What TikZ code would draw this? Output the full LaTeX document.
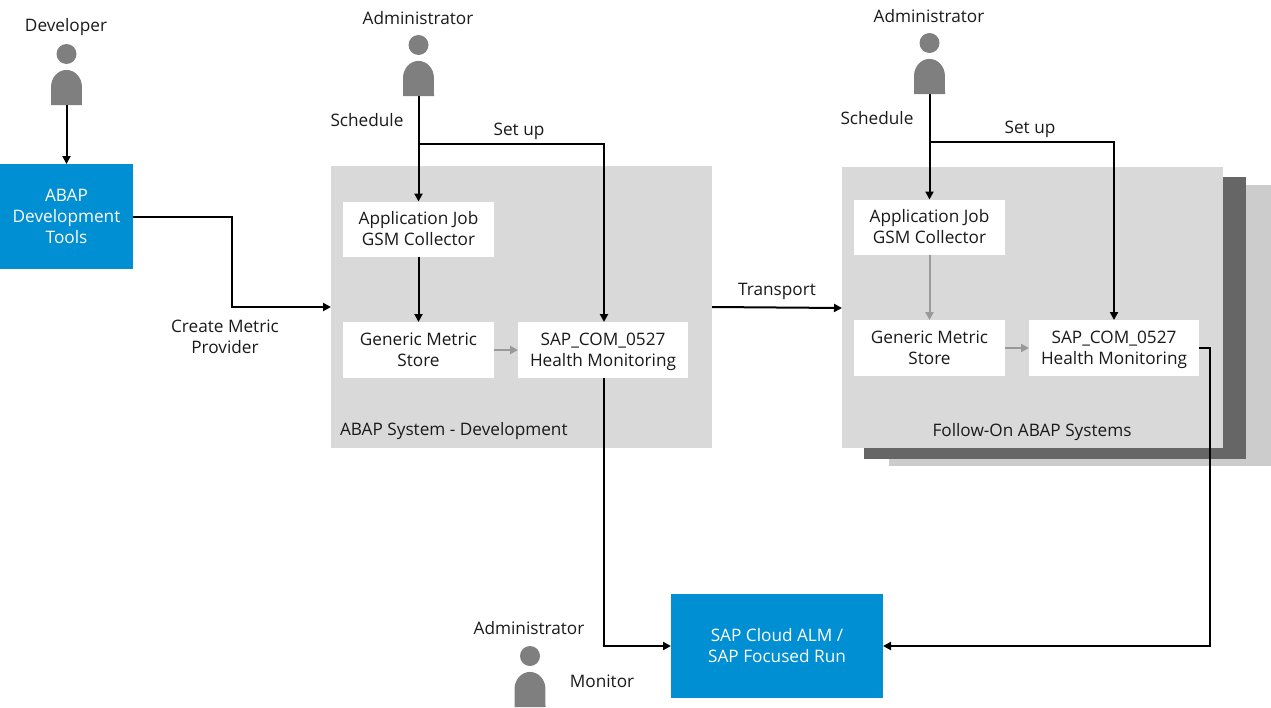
\documentclass[tikz,border=0pt]{standalone}
\usepackage{fontspec}
\setmainfont{Open Sans}
\usetikzlibrary{arrows.meta}
\definecolor{sapblue}{HTML}{008FD3}
\definecolor{pane}{HTML}{D9D9D9}
\definecolor{backlight}{HTML}{CCCCCC}
\definecolor{backdark}{HTML}{666666}
\definecolor{persongrey}{HTML}{7F7F7F}
\definecolor{softarrow}{HTML}{999999}
\definecolor{ink}{HTML}{1A1A1A}
\newcommand{\st}{\rule[-3pt]{0pt}{15pt}}
\tikzset{
  x=0.75pt,y=-0.75pt,
  every node/.style={font=\fontsize{12.9pt}{15.75pt}\selectfont,text=ink,inner sep=0pt,outer sep=0pt},
  panebox/.style={anchor=north west,rectangle,fill=#1},
  whitebox/.style={rectangle,fill=white,align=center,minimum height=42pt,text=ink},
  bluebox/.style={rectangle,fill=sapblue,align=center,text=white},
  lbl/.style={align=center},
  conn/.style={draw=black,line width=1.5pt,-{Triangle[length=6pt,width=6pt]}},
  softconn/.style={draw=softarrow,line width=1.5pt,-{Triangle[length=6pt,width=6pt]}},
}
\newcommand{\personfig}[3]{% x, body top y, name
  \fill[persongrey] (#1,#2-16) circle[radius=7.5pt];
  \fill[persongrey] (#1-15.5,#2+35) -- (#1-15.5,#2+17)
     arc[start angle=180,end angle=0,x radius=11.6pt,y radius=12.8pt]
     -- (#1+15.5,#2+35) -- cycle;
  \coordinate (#3) at (#1,#2+35);
}
\begin{document}
\begin{tikzpicture}
\useasboundingbox (0,0) rectangle (1271,707);
% background panes
\node[panebox=backlight,minimum width=286.5pt,minimum height=210.75pt] (backA) at (889,185) {};
\node[panebox=backdark,minimum width=286.5pt,minimum height=211.5pt] (backB) at (864,177) {};
\node[panebox=pane,minimum width=285.75pt,minimum height=210.75pt] (follow) at (842,167) {};
\node[panebox=pane,minimum width=285.75pt,minimum height=211.5pt] (dev) at (331,166) {};
% people
\personfig{66.5}{70}{pdev}
\personfig{418.5}{61}{padm}
\personfig{929.5}{59}{padr}
\personfig{530}{672}{pmon}
% blue boxes
\node[bluebox,minimum width=99.75pt,minimum height=78.75pt] (adt) at (66.5,216.5) {\st ABAP\\\st Development\\\st Tools};
\node[bluebox,minimum width=159pt,minimum height=78pt] (alm) at (777,646) {\st SAP Cloud ALM /\\\st SAP Focused Run};
% white boxes
\node[whitebox,minimum width=113.25pt,minimum height=41.25pt] (job1) at (418.5,229) {\st Application Job\\\st GSM Collector};
\node[whitebox,minimum width=113.25pt] (gms1) at (418.5,350) {\st Generic Metric\\\st Store};
\node[whitebox,minimum width=127.5pt] (hm1) at (603,350) {\st SAP\_COM\_0527\\\st Health Monitoring};
\node[whitebox,minimum width=113.25pt,minimum height=41.25pt] (job2) at (929.5,227) {\st Application Job\\\st GSM Collector};
\node[whitebox,minimum width=113.25pt] (gms2) at (929.5,348) {\st Generic Metric\\\st Store};
\node[whitebox,minimum width=127.5pt] (hm2) at (1114,348) {\st SAP\_COM\_0527\\\st Health Monitoring};
% connectors
\draw[conn] (pdev) -- (adt.north -| pdev);
\draw[conn] (adt.east) -| (232,307) -- (dev.west |- 0,307);
\draw[conn] (padm) -- (job1.north -| padm);
\draw[conn] (padm) -- (418.5,144) -| (hm1.north -| 604,0);
\draw[conn] (job1.south) -- (gms1.north);
\draw[softconn] (gms1.east |- 0,350) -- (hm1.west |- 0,350);
\draw[conn] (hm1.south -| 604,0) |- (alm.west);
\draw[conn] (dev.east |- 0,307) -- (follow.west |- 0,308);
\draw[conn] (padr) -- (job2.north -| padr);
\draw[conn] (padr) -- (929.5,142) -| (hm2.north);
\draw[softconn] (job2.south) -- (gms2.north);
\draw[softconn] (gms2.east) -- (hm2.west);
\draw[conn] (hm2.east) -- (1209.5,348) |- (alm.east);
% labels
\node[lbl] (l1) at (66,26) {\st Developer};
\node[lbl] (l2) at (418,18) {\st Administrator};
\node[lbl] (l3) at (367,120) {\st Schedule};
\node[lbl] (l4) at (519,130) {\st Set up};
\node[lbl] (l5) at (225,336.5) {\st Create Metric\\\st Provider};
\node[lbl] (l6) at (777,290) {\st Transport};
\node[lbl,anchor=west] (l7) at (340,430) {\st ABAP System - Development};
\node[lbl] (l8) at (1032,431) {\st Follow-On ABAP Systems};
\node[lbl] (l9) at (929,16) {\st Administrator};
\node[lbl] (l10) at (877,118) {\st Schedule};
\node[lbl] (l11) at (1030,128) {\st Set up};
\node[lbl] (l12) at (529,628) {\st Administrator};
\node[lbl] (l13) at (602,681) {\st Monitor};
\end{tikzpicture}
\end{document}
